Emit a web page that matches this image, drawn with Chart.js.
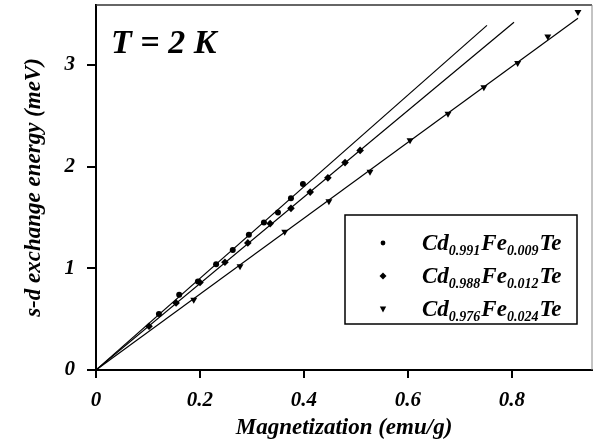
<!DOCTYPE html>
<html>
<head>
<meta charset="utf-8">
<script src="https://cdn.jsdelivr.net/npm/chart.js@4.4.0/dist/chart.umd.min.js"></script>
<style>
  html, body { margin: 0; padding: 0; background: #fff; }
  #wrap { width: 600px; height: 443px; }
</style>
</head>
<body>
<div id="wrap"><canvas id="myChart" width="600" height="443"></canvas></div>
<script>
// measured points (magnetization emu/g, exchange energy meV)
const mag991 = [0.121, 0.160, 0.196, 0.231, 0.263, 0.294, 0.323, 0.350, 0.375, 0.398];
const ene991 = [0.55, 0.74, 0.87, 1.04, 1.18, 1.33, 1.45, 1.55, 1.69, 1.83];

const mag988 = [0.102, 0.154, 0.200, 0.248, 0.292, 0.335, 0.375, 0.412, 0.446, 0.479, 0.508];
const ene988 = [0.43, 0.66, 0.86, 1.06, 1.25, 1.44, 1.59, 1.75, 1.89, 2.04, 2.16];

const mag976 = [0.188, 0.277, 0.363, 0.448, 0.527, 0.604, 0.677, 0.746, 0.811, 0.869, 0.927];
const ene976 = [0.69, 1.02, 1.36, 1.66, 1.95, 2.26, 2.52, 2.78, 3.02, 3.28, 3.52];

// linear fits through the origin: [x0, x1], [y0, y1]
const fitX = [[0, 0.752], [0, 0.804], [0, 0.927]];
const fitY = [[0, 3.39], [0, 3.42], [0, 3.46]];

const xTicks = [0, 0.2, 0.4, 0.6, 0.8];
const yTicks = [0, 1, 2, 3];

const legendNames = [
  ['Cd', '0.991', 'Fe', '0.009', 'Te'],
  ['Cd', '0.988', 'Fe', '0.012', 'Te'],
  ['Cd', '0.976', 'Fe', '0.024', 'Te']
];

const serif = '"Liberation Serif", "DejaVu Serif", serif';

function pts(xs, ys) {
  return xs.map((x, i) => ({ x: x, y: ys[i] }));
}

const fitSets = fitX.map((xs, i) => ({
  data: pts(xs, fitY[i]),
  showLine: true,
  borderColor: '#000',
  borderWidth: 1.2,
  pointRadius: 0,
  fill: false
}));

const markerSets = [
  { data: pts(mag991, ene991), pointStyle: 'circle', pointRadius: 3, pointRotation: 0 },
  { data: pts(mag988, ene988), pointStyle: 'rectRot', pointRadius: 3.8, pointRotation: 0 },
  { data: pts(mag976, ene976), pointStyle: 'triangle', pointRadius: 4, pointRotation: 180 }
].map(d => Object.assign(d, {
  showLine: false,
  backgroundColor: '#000',
  borderColor: '#000',
  borderWidth: 0
}));

// frame, "T = 2 K" label and the legend with subscripts
const decorations = {
  id: 'decorations',
  afterDraw(chart) {
    const c = chart.ctx;
    const a = chart.chartArea;
    c.save();
    // top and right frame
    c.strokeStyle = '#333';
    c.lineWidth = 1.5;
    c.beginPath();
    c.moveTo(a.left, a.top);
    c.lineTo(a.right, a.top);
    c.stroke();
    c.strokeStyle = '#888';
    c.lineWidth = 1;
    c.beginPath();
    c.moveTo(a.right, a.top);
    c.lineTo(a.right, a.bottom);
    c.stroke();

    // temperature label
    c.fillStyle = '#000';
    c.font = 'italic bold 34px ' + serif;
    c.textBaseline = 'alphabetic';
    c.fillText('T = 2 K', a.left + 15, a.top + 48);

    // legend box
    const bx = a.left + 249, by = a.top + 210, bw = 232, bh = 109;
    c.fillStyle = '#fff';
    c.fillRect(bx, by, bw, bh);
    c.strokeStyle = '#000';
    c.lineWidth = 1.5;
    c.strokeRect(bx, by, bw, bh);

    const rowY = [by + 28, by + 61, by + 94];
    legendNames.forEach((parts, i) => {
      const my = rowY[i];
      const mx = bx + 38;
      c.fillStyle = '#000';
      c.beginPath();
      if (i === 0) {
        c.arc(mx, my, 2.4, 0, Math.PI * 2);
      } else if (i === 1) {
        c.moveTo(mx, my - 3.5); c.lineTo(mx + 3.5, my);
        c.lineTo(mx, my + 3.5); c.lineTo(mx - 3.5, my);
        c.closePath();
      } else {
        c.moveTo(mx - 3.2, my - 2.5); c.lineTo(mx + 3.2, my - 2.5);
        c.lineTo(mx, my + 3.5);
        c.closePath();
      }
      c.fill();

      let tx = bx + 77;
      const base = my + 7;
      parts.forEach((p, j) => {
        const sub = j % 2 === 1;
        c.font = 'italic bold ' + (sub ? '14px ' : '23px ') + serif;
        c.fillText(p, tx, sub ? base + 5 : base);
        tx += c.measureText(p).width + (sub ? 1 : 0);
      });
    });
    c.restore();
  }
};

const tickFont = { family: serif, size: 21, weight: 'bold', style: 'italic' };
const titleFont = { family: serif, size: 23, weight: 'bold', style: 'italic' };

function noPad(s) {
  s.paddingTop = 0;
  s.paddingBottom = 0;
  s.paddingLeft = 0;
  s.paddingRight = 0;
}

const ctx = document.getElementById('myChart').getContext('2d');
let myChart = new Chart(ctx, {
  type: 'scatter',
  data: { datasets: fitSets.concat(markerSets) },
  options: {
    responsive: false,
    animation: false,
    layout: { padding: { left: 0, top: 5, right: 8, bottom: 0 } },
    plugins: { legend: { display: false }, tooltip: { enabled: false } },
    scales: {
      x: {
        type: 'linear',
        min: 0,
        max: 0.954,
        afterBuildTicks: s => { s.ticks = xTicks.map(v => ({ value: v })); },
        afterFit: s => { s.height = 73; noPad(s); },
        border: { color: '#000', width: 2 },
        grid: { drawOnChartArea: false, drawTicks: true, tickLength: 8, color: '#000', lineWidth: 2 },
        ticks: {
          color: '#000',
          font: tickFont,
          padding: 10,
          callback: v => String(v)
        },
        title: {
          display: true,
          text: 'Magnetization (emu/g)',
          color: '#000',
          font: titleFont,
          padding: { top: 0, bottom: 1 }
        }
      },
      y: {
        type: 'linear',
        min: 0,
        max: 3.59,
        afterBuildTicks: s => { s.ticks = yTicks.map(v => ({ value: v })); },
        afterFit: s => { s.width = 96; noPad(s); },
        border: { color: '#000', width: 2 },
        grid: { drawOnChartArea: false, drawTicks: true, tickLength: 9, color: '#000', lineWidth: 2 },
        ticks: {
          color: '#000',
          font: tickFont,
          padding: 12,
          callback: v => String(v)
        },
        title: {
          display: true,
          text: 's-d exchange energy (meV)',
          color: '#000',
          font: titleFont,
          padding: { top: 20, bottom: 0 }
        }
      }
    }
  },
  plugins: [decorations]
});
</script>
</body>
</html>
